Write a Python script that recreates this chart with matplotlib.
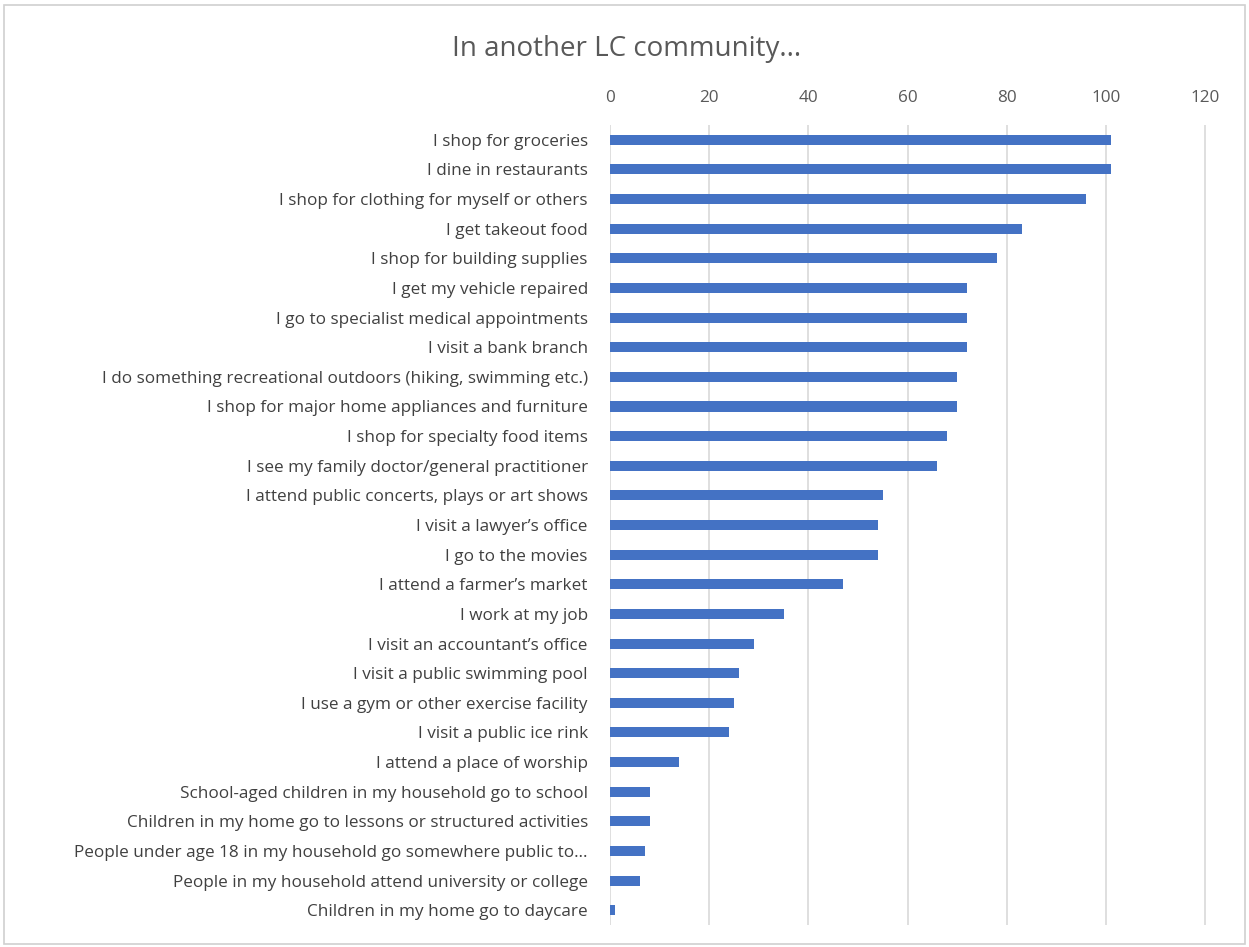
import matplotlib.pyplot as plt
from matplotlib.patches import Rectangle

labels = [
    "I shop for groceries",
    "I dine in restaurants",
    "I shop for clothing for myself or others",
    "I get takeout food",
    "I shop for building supplies",
    "I get my vehicle repaired",
    "I go to specialist medical appointments",
    "I visit a bank branch",
    "I do something recreational outdoors (hiking, swimming etc.)",
    "I shop for major home appliances and furniture",
    "I shop for specialty food items",
    "I see my family doctor/general practitioner",
    "I attend public concerts, plays or art shows",
    "I visit a lawyer\u2019s office",
    "I go to the movies",
    "I attend a farmer\u2019s market",
    "I work at my job",
    "I visit an accountant\u2019s office",
    "I visit a public swimming pool",
    "I use a gym or other exercise facility",
    "I visit a public ice rink",
    "I attend a place of worship",
    "School-aged children in my household go to school",
    "Children in my home go to lessons or structured activities",
    "People under age 18 in my household go somewhere public to\u2026",
    "People in my household attend university or college",
    "Children in my home go to daycare",
]
counts = [101, 101, 96, 83, 78, 72, 72, 72, 70, 70, 68, 66, 55, 54, 54,
          47, 35, 29, 26, 25, 24, 14, 8, 8, 7, 6, 1]
ticks = [0, 20, 40, 60, 80, 100, 120]

plt.rcParams['font.family'] = ['Open Sans', 'DejaVu Sans']

fig = plt.figure(figsize=(12.49, 9.47), dpi=100)
fig.patches.append(Rectangle((0.003, 0.003), 0.994, 0.992, transform=fig.transFigure,
                             fill=False, edgecolor='#d0d0d0', linewidth=1.2))
ax = fig.add_axes([0.4884, 0.0232, 0.4804, 0.8448])

ax.barh(range(len(labels)), counts, height=0.34, color='#4472c4', zorder=3)
ax.set_ylim(len(labels) - 0.5, -0.5)
ax.set_xlim(0, 121)
ax.set_xticks(ticks)
ax.set_yticks(range(len(labels)))
ax.set_yticklabels(labels, fontsize=12.3, color='#404040')
ax.xaxis.tick_top()
ax.tick_params(axis='x', length=0, pad=14, labelsize=12.3, labelcolor='#595959')
ax.tick_params(axis='y', length=0, pad=16)
ax.grid(axis='x', color='#d9d9d9', linewidth=1.2, zorder=0)
for s in ax.spines.values():
    s.set_visible(False)

fig.text(0.502, 0.948, "In another LC community...", ha='center', va='center',
         fontsize=20, color='#595959')

fig.savefig('out.png', dpi=100)
